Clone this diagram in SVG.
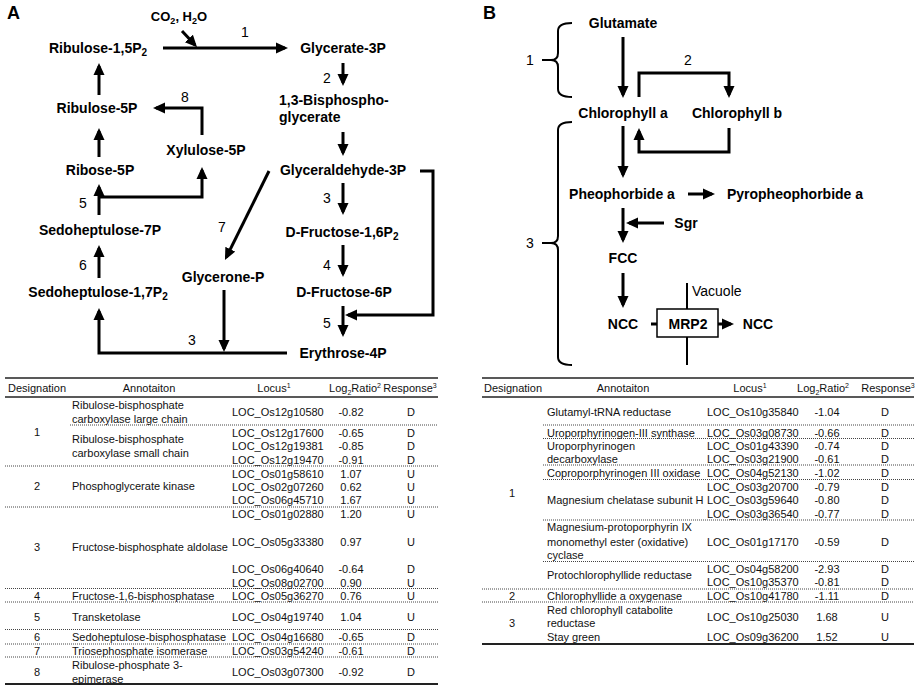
<svg xmlns="http://www.w3.org/2000/svg" width="921" height="690" viewBox="0 0 921 690">
<style>
text{font-family:"Liberation Sans",Arial,sans-serif;fill:#000}
.n{font-size:14px;font-weight:bold;text-anchor:middle}
.nl{font-size:14px;font-weight:bold}
.lb{font-size:14px;text-anchor:middle}
.pl{font-size:18px;font-weight:bold}
.t{font-size:11px;fill:#111}
.tc{font-size:11px;fill:#111;text-anchor:middle}
.c{fill:none;stroke:#000;stroke-width:3}
.cm{fill:none;stroke:#000;stroke-width:3;marker-end:url(#ah)}
.br{fill:none;stroke:#000;stroke-width:2}
.rule{stroke:#222;stroke-width:1.6}
.dot{stroke:#444;stroke-width:1;stroke-dasharray:1,1}
</style>
<defs>
<marker id="ah" markerUnits="userSpaceOnUse" markerWidth="12" markerHeight="12" viewBox="0 0 12 12" refX="9" refY="6" orient="auto"><path d="M0,0.5 L12,6 L0,11.5 z" fill="#000"/></marker>
</defs>
<rect width="921" height="690" fill="#fff"/>

<!-- Panel A -->
<text class="pl" x="7" y="19">A</text>
<g id="a-co2"><text class="n" x="179" y="21" style="font-size:13px">CO<tspan font-size="9" dy="3">2</tspan><tspan dy="-3">, H</tspan><tspan font-size="9" dy="3">2</tspan><tspan dy="-3">O</tspan></text></g>
<g id="a-rubp"><text class="n" x="98" y="53">Ribulose-1,5P<tspan font-size="10" dy="3">2</tspan></text></g>
<g id="a-g3p"><text class="n" x="343" y="53">Glycerate-3P</text></g>
<g id="a-bpg"><text class="nl" x="279" y="105">1,3-Bisphospho-</text><text class="nl" x="279" y="122">glycerate</text></g>
<g id="a-gap"><text class="n" x="343" y="175">Glyceraldehyde-3P</text></g>
<g id="a-fbp"><text class="n" x="342" y="237">D-Fructose-1,6P<tspan font-size="10" dy="3">2</tspan></text></g>
<g id="a-f6p"><text class="n" x="344" y="297">D-Fructose-6P</text></g>
<g id="a-e4p"><text class="n" x="343" y="358">Erythrose-4P</text></g>
<g id="a-dhap"><text class="n" x="223" y="282">Glycerone-P</text></g>
<g id="a-sbp"><text class="n" x="98" y="297">Sedoheptulose-1,7P<tspan font-size="10" dy="3">2</tspan></text></g>
<g id="a-s7p"><text class="n" x="100" y="235">Sedoheptulose-7P</text></g>
<g id="a-r5p"><text class="n" x="100" y="175">Ribose-5P</text></g>
<g id="a-ru5p"><text class="n" x="97" y="113">Ribulose-5P</text></g>
<g id="a-x5p"><text class="n" x="206" y="155">Xylulose-5P</text></g>

<g id="a-connectors">
<path class="cm" d="M163,48 H285"/>
<path class="cm" d="M182,31 L195,45"/>
<path class="cm" d="M343,63 V83"/>
<path class="cm" d="M343,132 V153"/>
<path class="cm" d="M343,183 V212"/>
<path class="cm" d="M343,245 V274"/>
<path class="cm" d="M343,306 V334"/>
<path class="cm" d="M420,171 H433 V315 H348"/>
<path class="cm" d="M269,171 L226.3,257.3"/>
<path class="cm" d="M224,290 V349"/>
<path class="cm" d="M287,353 H99 V311"/>
<path class="cm" d="M99,278 V248"/>
<path class="cm" d="M99,215 V187"/>
<path class="cm" d="M99,197 H202 V170"/>
<path class="cm" d="M99,157 V131"/>
<path class="cm" d="M99,95 V66"/>
<path class="cm" d="M202,135 V108 H156"/>
<text class="lb" x="245" y="37">1</text>
<text class="lb" x="327" y="83">2</text>
<text class="lb" x="327" y="203">3</text>
<text class="lb" x="327" y="270">4</text>
<text class="lb" x="327" y="328">5</text>
<text class="lb" x="222" y="232">7</text>
<text class="lb" x="192" y="345">3</text>
<text class="lb" x="83" y="270">6</text>
<text class="lb" x="83" y="208">5</text>
<text class="lb" x="185" y="102">8</text>
</g>

<!-- Panel B -->
<text class="pl" x="483" y="19">B</text>
<g id="b-glu"><text class="n" x="623" y="28">Glutamate</text></g>
<g id="b-chla"><text class="n" x="623" y="118">Chlorophyll a</text></g>
<g id="b-chlb"><text class="n" x="737" y="118">Chlorophyll b</text></g>
<g id="b-pheo"><text class="n" x="622" y="199">Pheophorbide a</text></g>
<g id="b-pyro"><text class="n" x="795" y="199">Pyropheophorbide a</text></g>
<g id="b-sgr"><text class="n" x="686" y="228">Sgr</text></g>
<g id="b-fcc"><text class="n" x="623" y="263">FCC</text></g>
<g id="b-ncc1"><text class="n" x="623" y="329">NCC</text></g>
<g id="b-mrp2"><rect x="657" y="309" width="61" height="28" fill="#fff" stroke="#000" stroke-width="1.5"/><text class="n" x="688" y="329">MRP2</text></g>
<g id="b-ncc2"><text class="n" x="758" y="329">NCC</text></g>
<g id="b-vacuole"><line x1="687" y1="283" x2="687" y2="309" stroke="#000" stroke-width="2"/><line x1="687" y1="337" x2="687" y2="365" stroke="#000" stroke-width="2"/><text x="692" y="296" style="font-size:14px">Vacuole</text></g>
<g id="b-brace1"><path class="br" d="M572,23 Q558,23 558,31 V53 Q558,60 551,60 Q558,60 558,67 V89 Q558,97 572,97 M542,60 H551"/><text class="lb" x="530" y="65">1</text></g>
<g id="b-brace3"><path class="br" d="M572,122 Q558,122 558,130 V236 Q558,243 551,243 Q558,243 558,250 V357 Q558,365 572,365 M542,243 H551"/><text class="lb" x="530" y="248">3</text></g>

<g id="b-connectors">
<path class="cm" d="M623,37 V95"/>
<path class="cm" d="M639,97 V73 H729 V95"/>
<path class="cm" d="M729,128 V152 H639 V131"/>
<path class="cm" d="M623,126 V175"/>
<path class="cm" d="M688,194 H712"/>
<path class="cm" d="M623,208 V240"/>
<path class="cm" d="M664,223 H629"/>
<path class="cm" d="M623,273 V305"/>
<path class="c" d="M651,324 H657"/>
<path class="cm" d="M718,324 H731"/>
<text class="lb" x="688" y="65">2</text>
</g>

<!-- Table A -->
<g id="table-a">
<line class="rule" x1="5" y1="378" x2="438" y2="378"/>
<line class="rule" x1="5" y1="397" x2="438" y2="397"/>
<line x1="5" y1="684" x2="438" y2="684" stroke="#222" stroke-width="2.2"/>
<text class="tc" x="37" y="392">Designation</text>
<text class="tc" x="149" y="392">Annotaiton</text>
<text class="tc" x="274" y="392">Locus<tspan font-size="7" dy="-4">1</tspan></text>
<text class="tc" x="355" y="392">Log<tspan font-size="7" dy="3">2</tspan><tspan dy="-3">Ratio</tspan><tspan font-size="7" dy="-4">2</tspan></text>
<text class="tc" x="410" y="392">Response<tspan font-size="7" dy="-4">3</tspan></text>
<line class="dot" x1="70" y1="425" x2="438" y2="425"/>
<line class="dot" x1="5" y1="466" x2="438" y2="466"/>
<line class="dot" x1="5" y1="507" x2="438" y2="507"/>
<line class="dot" x1="5" y1="588.5" x2="438" y2="588.5"/>
<line class="dot" x1="5" y1="602" x2="438" y2="602"/>
<line class="dot" x1="5" y1="629.5" x2="438" y2="629.5"/>
<line class="dot" x1="5" y1="644" x2="438" y2="644"/>
<line class="dot" x1="5" y1="657" x2="438" y2="657"/>

<text class="tc" x="37" y="436">1</text>
<text class="t" x="72" y="409">Ribulose-bisphosphate</text>
<text class="t" x="72" y="423">carboxylase large chain</text>
<text class="t" x="72" y="443">Ribulose-bisphosphate</text>
<text class="t" x="72" y="456.5">carboxylase small chain</text>
<text class="t" x="232" y="416">LOC_Os12g10580</text><text class="tc" x="351" y="416">-0.82</text><text class="tc" x="411" y="416">D</text>
<text class="t" x="232" y="437">LOC_Os12g17600</text><text class="tc" x="351" y="437">-0.65</text><text class="tc" x="411" y="437">D</text>
<text class="t" x="232" y="450">LOC_Os12g19381</text><text class="tc" x="351" y="450">-0.85</text><text class="tc" x="411" y="450">D</text>
<text class="t" x="232" y="463.5">LOC_Os12g19470</text><text class="tc" x="351" y="463.5">-0.91</text><text class="tc" x="411" y="463.5">D</text>

<text class="tc" x="37" y="490">2</text>
<text class="t" x="72" y="490">Phosphoglycerate kinase</text>
<text class="t" x="232" y="477.5">LOC_Os01g58610</text><text class="tc" x="351" y="477.5">1.07</text><text class="tc" x="411" y="477.5">U</text>
<text class="t" x="232" y="491">LOC_Os02g07260</text><text class="tc" x="351" y="491">0.62</text><text class="tc" x="411" y="491">U</text>
<text class="t" x="232" y="504">LOC_Os06g45710</text><text class="tc" x="351" y="504">1.67</text><text class="tc" x="411" y="504">U</text>

<text class="tc" x="37" y="551">3</text>
<text class="t" x="72" y="551">Fructose-bisphosphate aldolase</text>
<text class="t" x="232" y="518">LOC_Os01g02880</text><text class="tc" x="351" y="518">1.20</text><text class="tc" x="411" y="518">U</text>
<text class="t" x="232" y="546">LOC_Os05g33380</text><text class="tc" x="351" y="546">0.97</text><text class="tc" x="411" y="546">U</text>
<text class="t" x="232" y="573">LOC_Os06g40640</text><text class="tc" x="351" y="573">-0.64</text><text class="tc" x="411" y="573">D</text>
<text class="t" x="232" y="586.5">LOC_Os08g02700</text><text class="tc" x="351" y="586.5">0.90</text><text class="tc" x="411" y="586.5">U</text>

<text class="tc" x="37" y="600">4</text>
<text class="t" x="72" y="600">Fructose-1,6-bisphosphatase</text>
<text class="t" x="232" y="600">LOC_Os05g36270</text><text class="tc" x="351" y="600">0.76</text><text class="tc" x="411" y="600">U</text>

<text class="tc" x="37" y="621">5</text>
<text class="t" x="72" y="621">Transketolase</text>
<text class="t" x="232" y="621">LOC_Os04g19740</text><text class="tc" x="351" y="621">1.04</text><text class="tc" x="411" y="621">U</text>

<text class="tc" x="37" y="641">6</text>
<text class="t" x="72" y="641">Sedoheptulose-bisphosphatase</text>
<text class="t" x="232" y="641">LOC_Os04g16680</text><text class="tc" x="351" y="641">-0.65</text><text class="tc" x="411" y="641">D</text>

<text class="tc" x="37" y="655">7</text>
<text class="t" x="72" y="655">Triosephosphate isomerase</text>
<text class="t" x="232" y="655">LOC_Os03g54240</text><text class="tc" x="351" y="655">-0.61</text><text class="tc" x="411" y="655">D</text>

<text class="tc" x="37" y="676">8</text>
<text class="t" x="72" y="669">Ribulose-phosphate 3-</text>
<text class="t" x="72" y="682.5">epimerase</text>
<text class="t" x="232" y="676">LOC_Os03g07300</text><text class="tc" x="351" y="676">-0.92</text><text class="tc" x="411" y="676">D</text>
</g>

<!-- Table B -->
<g id="table-b">
<line class="rule" x1="482" y1="378" x2="914" y2="378"/>
<line class="rule" x1="482" y1="397" x2="914" y2="397"/>
<line x1="482" y1="644" x2="914" y2="644" stroke="#222" stroke-width="2.2"/>
<text class="tc" x="513" y="392">Designation</text>
<text class="tc" x="623" y="392">Annotaiton</text>
<text class="tc" x="750" y="392">Locus<tspan font-size="7" dy="-4">1</tspan></text>
<text class="tc" x="823" y="392">Log<tspan font-size="7" dy="3">2</tspan><tspan dy="-3">Ratio</tspan><tspan font-size="7" dy="-4">2</tspan></text>
<text class="tc" x="888" y="392">Response<tspan font-size="7" dy="-4">3</tspan></text>
<line class="dot" x1="543" y1="425" x2="914" y2="425"/>
<line class="dot" x1="543" y1="438.5" x2="914" y2="438.5"/>
<line class="dot" x1="543" y1="465" x2="914" y2="465"/>
<line class="dot" x1="543" y1="479.5" x2="914" y2="479.5"/>
<line class="dot" x1="543" y1="520" x2="914" y2="520"/>
<line class="dot" x1="543" y1="561.5" x2="914" y2="561.5"/>
<line class="dot" x1="482" y1="589" x2="914" y2="589"/>
<line class="dot" x1="482" y1="602" x2="914" y2="602"/>

<text class="tc" x="512" y="497">1</text>
<text class="t" x="547" y="416">Glutamyl-tRNA reductase</text>
<text class="t" x="707" y="416">LOC_Os10g35840</text><text class="tc" x="827" y="416">-1.04</text><text class="tc" x="885" y="416">D</text>
<text class="t" x="547" y="436.5">Uroporphyrinogen-III synthase</text>
<text class="t" x="707" y="436.5">LOC_Os03g08730</text><text class="tc" x="827" y="436.5">-0.66</text><text class="tc" x="885" y="436.5">D</text>
<text class="t" x="547" y="450">Uroporphyrinogen</text>
<text class="t" x="547" y="463.3">decarboxylase</text>
<text class="t" x="707" y="450">LOC_Os01g43390</text><text class="tc" x="827" y="450">-0.74</text><text class="tc" x="885" y="450">D</text>
<text class="t" x="707" y="463.3">LOC_Os03g21900</text><text class="tc" x="827" y="463.3">-0.61</text><text class="tc" x="885" y="463.3">D</text>
<text class="t" x="547" y="477.3">Coproporphyrinogen III oxidase</text>
<text class="t" x="707" y="477.3">LOC_Os04g52130</text><text class="tc" x="827" y="477.3">-1.02</text><text class="tc" x="885" y="477.3">D</text>
<text class="t" x="547" y="504">Magnesium chelatase subunit H</text>
<text class="t" x="707" y="490.7">LOC_Os03g20700</text><text class="tc" x="827" y="490.7">-0.79</text><text class="tc" x="885" y="490.7">D</text>
<text class="t" x="707" y="504">LOC_Os03g59640</text><text class="tc" x="827" y="504">-0.80</text><text class="tc" x="885" y="504">D</text>
<text class="t" x="707" y="518">LOC_Os03g36540</text><text class="tc" x="827" y="518">-0.77</text><text class="tc" x="885" y="518">D</text>
<text class="t" x="547" y="531.3">Magnesium-protoporphyrin IX</text>
<text class="t" x="547" y="545.7">monomethyl ester (oxidative)</text>
<text class="t" x="547" y="559">cyclase</text>
<text class="t" x="707" y="545.7">LOC_Os01g17170</text><text class="tc" x="827" y="545.7">-0.59</text><text class="tc" x="885" y="545.7">D</text>
<text class="t" x="547" y="579">Protochlorophyllide reductase</text>
<text class="t" x="707" y="573">LOC_Os04g58200</text><text class="tc" x="827" y="573">-2.93</text><text class="tc" x="885" y="573">D</text>
<text class="t" x="707" y="586.3">LOC_Os10g35370</text><text class="tc" x="827" y="586.3">-0.81</text><text class="tc" x="885" y="586.3">D</text>

<text class="tc" x="512" y="600">2</text>
<text class="t" x="547" y="600">Chlorophyllide a oxygenase</text>
<text class="t" x="707" y="600">LOC_Os10g41780</text><text class="tc" x="827" y="600">-1.11</text><text class="tc" x="885" y="600">D</text>

<text class="tc" x="512" y="627.3">3</text>
<text class="t" x="547" y="614">Red chlorophyll catabolite</text>
<text class="t" x="547" y="627.3">reductase</text>
<text class="t" x="707" y="620.7">LOC_Os10g25030</text><text class="tc" x="827" y="620.7">1.68</text><text class="tc" x="885" y="620.7">U</text>
<text class="t" x="547" y="640.7">Stay green</text>
<text class="t" x="707" y="640.7">LOC_Os09g36200</text><text class="tc" x="827" y="640.7">1.52</text><text class="tc" x="885" y="640.7">U</text>
</g>
</svg>
